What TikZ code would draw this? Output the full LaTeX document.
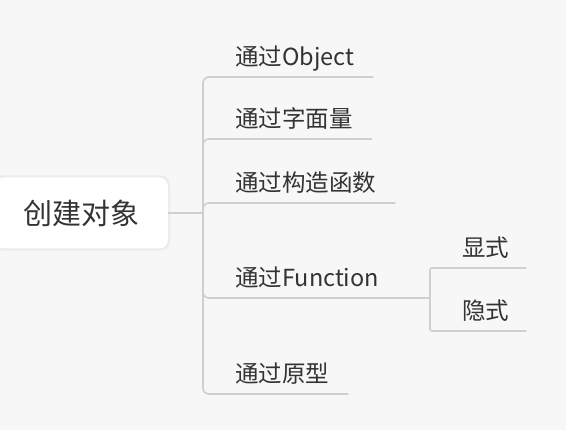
\documentclass[tikz,border=0pt]{standalone}
\usepackage{fontspec}
\setmainfont{Noto Sans CJK SC}
\usetikzlibrary{calc,backgrounds}
\definecolor{bgcol}{HTML}{F7F7F7}
\definecolor{linecol}{HTML}{CFCFCF}
\definecolor{txtcol}{HTML}{333333}
\definecolor{shadowcol}{HTML}{ECECEC}

\begin{document}
\begin{tikzpicture}[x=1pt, y=-1pt,
	rootbox/.style={fill=white, rounded corners=9pt, minimum width=173pt, minimum height=71pt, inner sep=0pt, text=txtcol, font=\fontsize{29}{34}\selectfont},
	topic/.style={anchor=south west, inner xsep=0pt, inner ysep=11pt, text depth=0pt, text=txtcol, font=\fontsize{23.5}{28}\selectfont},
	branch/.style={draw=linecol, line width=1.6pt, rounded corners=6pt},
	twig/.style={draw=linecol, line width=1.6pt, rounded corners=2pt}]
	\useasboundingbox (0,0) rectangle (566,430);
	\node[rootbox] (root) at (81.5,213) {创建对象};
	\coordinate (hub) at (203,213);
	\node[topic] (obj) at (235,77) {通过Object};
	\node[topic] (lit) at (235,139) {通过字面量};
	\node[topic] (ctor) at (235,203) {通过构造函数};
	\node[topic] (func) at (235,298) {通过Function};
	\node[topic] (proto) at (235,394) {通过原型};
	\coordinate (subhub) at (430,298);
	\node[topic] (expl) at (462,268) {显式};
	\node[topic] (impl) at (462,331) {隐式};
	\draw[branch] (root.east) -- (hub);
	\foreach \n in {obj,lit,ctor,proto}
		\draw[branch] (hub) |- ($(\n.south east)+(19,0)$);
	\draw[branch] (hub) |- (subhub);
	\foreach \n in {expl,impl}
		\draw[twig] (subhub) |- ($(\n.south east)+(17,0)$);
	\begin{scope}[on background layer]
		\fill[bgcol] (0,0) rectangle (566,430);
		\fill[shadowcol, rounded corners=10pt] ($(root.south west)+(-2,2)$) rectangle ($(root.north east)+(2,-2)$);
	\end{scope}
\end{tikzpicture}
\end{document}
